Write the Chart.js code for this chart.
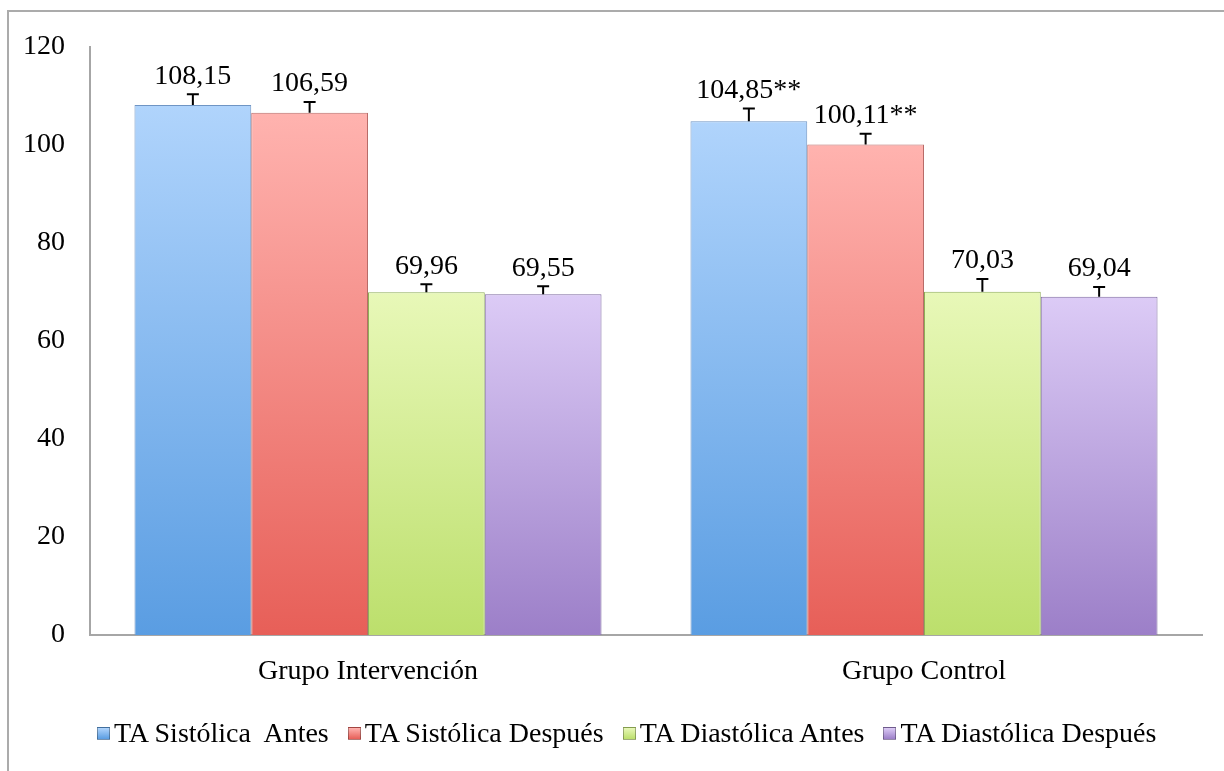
<!DOCTYPE html>
<html>
<head>
<meta charset="utf-8">
<script src="https://cdn.jsdelivr.net/npm/chart.js@4"></script>
<style>
  body { margin: 0; background: #fff; }
  #wrap { position: relative; width: 1224px; height: 771px; overflow: hidden; }
  #marco { position: absolute; left: 7px; top: 10px; width: 1400px; height: 900px;
           border-left: 2px solid #ababab; border-top: 2px solid #ababab; }
  #grafico { position: absolute; left: 0; top: 0; }
  #leyenda { position: absolute; left: 97px; top: 717px; display: flex; gap: 19px;
             font-family: "Liberation Serif", serif; font-size: 28px; color: #000; white-space: pre; }
  #leyenda .item { display: flex; align-items: center; }
  #leyenda .caja { width: 11px; height: 11px; margin-right: 4px; border: 1px solid rgba(0,0,0,0.3); }
</style>
</head>
<body>
<div id="wrap">
  <div id="marco"></div>
  <canvas id="grafico" width="1224" height="771"></canvas>
  <div id="leyenda"></div>
</div>
<script>
// Datos
const grupos = ["Grupo Intervención", "Grupo Control"];
const series = ["TA Sistólica  Antes", "TA Sistólica Después", "TA Diastólica Antes", "TA Diastólica Después"];
const sistolicaAntes = [108.15, 104.85];
const sistolicaDespues = [106.59, 100.11];
const diastolicaAntes = [69.96, 70.03];
const diastolicaDespues = [69.55, 69.04];
// error (solo hacia arriba)
const errSistAntes = [2.2, 2.6];
const errSistDespues = [2.2, 2.2];
const errDiastAntes = [1.6, 2.6];
const errDiastDespues = [1.6, 2.0];
// marcas de significacion
const marcas = [["", "**"], ["", "**"], ["", ""], ["", ""]];
const ticksY = [0, 20, 40, 60, 80, 100, 120];

const colores = [
  { arriba: "#b0d4fc", abajo: "#5a9de2", borde: "#6f95c4" },
  { arriba: "#ffb3af", abajo: "#e75f58", borde: "#b86b68" },
  { arriba: "#e8f8b8", abajo: "#bcdf6c", borde: "#8fae58" },
  { arriba: "#dccbf6", abajo: "#9c7fc8", borde: "#7e6aa0" }
];

const valores = [sistolicaAntes, sistolicaDespues, diastolicaAntes, diastolicaDespues];
const errores = [errSistAntes, errSistDespues, errDiastAntes, errDiastDespues];

const fuente = { family: "Liberation Serif", size: 28 };

// degradado por barra (de su tope a la base)
function degradado(ctx, idx) {
  const chart = ctx.chart;
  const c = colores[idx];
  if (!chart.chartArea || ctx.parsed === undefined) return c.abajo;
  const y = chart.scales.y;
  const top = y.getPixelForValue(ctx.parsed.y);
  const base = y.getPixelForValue(0);
  const g = chart.ctx.createLinearGradient(0, top, 0, base);
  g.addColorStop(0, c.arriba);
  g.addColorStop(1, c.abajo);
  return g;
}

// barras de error + etiquetas
const pluginError = {
  id: "errores",
  afterDatasetsDraw(chart) {
    const ctx = chart.ctx;
    const y = chart.scales.y;
    ctx.save();
    chart.data.datasets.forEach((ds, di) => {
      const meta = chart.getDatasetMeta(di);
      meta.data.forEach((bar, i) => {
        const v = ds.data[i];
        const yTop = y.getPixelForValue(v);
        const yErr = y.getPixelForValue(v + errores[di][i]);
        ctx.strokeStyle = "#000";
        ctx.lineWidth = 2;
        ctx.beginPath();
        ctx.moveTo(bar.x, yTop);
        ctx.lineTo(bar.x, yErr);
        ctx.moveTo(bar.x - 6, yErr);
        ctx.lineTo(bar.x + 6, yErr);
        ctx.stroke();
        ctx.fillStyle = "#000";
        ctx.font = fuente.size + "px " + fuente.family;
        ctx.textAlign = "center";
        ctx.textBaseline = "middle";
        const txt = v.toFixed(2).replace(".", ",") + marcas[di][i];
        ctx.fillText(txt, bar.x, yErr - 18);
      });
    });
    ctx.restore();
  }
};

new Chart(document.getElementById("grafico"), {
  type: "bar",
  data: {
    labels: grupos,
    datasets: series.map((s, i) => ({
      label: s,
      data: valores[i],
      backgroundColor: ctx => degradado(ctx, i),
      borderColor: colores[i].borde,
      borderWidth: 1,
      categoryPercentage: 0.84,
      barPercentage: 1.0
    }))
  },
  options: {
    responsive: false,
    animation: false,
    layout: { padding: { left: 0, right: 22, top: 47, bottom: 71 } },
    plugins: { legend: { display: false }, tooltip: { enabled: false } },
    scales: {
      x: {
        grid: { display: false },
        border: { color: "#a6a6a6", width: 2 },
        ticks: { font: fuente, color: "#000", padding: 12 },
        afterFit: s => { s.height = 65; }
      },
      y: {
        min: 0, max: 120,
        afterBuildTicks: s => { s.ticks = ticksY.map(v => ({ value: v })); },
        grid: { display: false },
        border: { color: "#a6a6a6", width: 2 },
        ticks: { font: fuente, color: "#000", padding: 17 },
        afterFit: s => { s.width = 90; }
      }
    }
  },
  plugins: [pluginError]
});

// leyenda
const ley = document.getElementById("leyenda");
series.forEach((s, i) => {
  const it = document.createElement("div");
  it.className = "item";
  it.innerHTML = `<span class="caja" style="background:linear-gradient(${colores[i].arriba}, ${colores[i].abajo})"></span><span>${s}</span>`;
  ley.appendChild(it);
});
</script>
</body>
</html>
